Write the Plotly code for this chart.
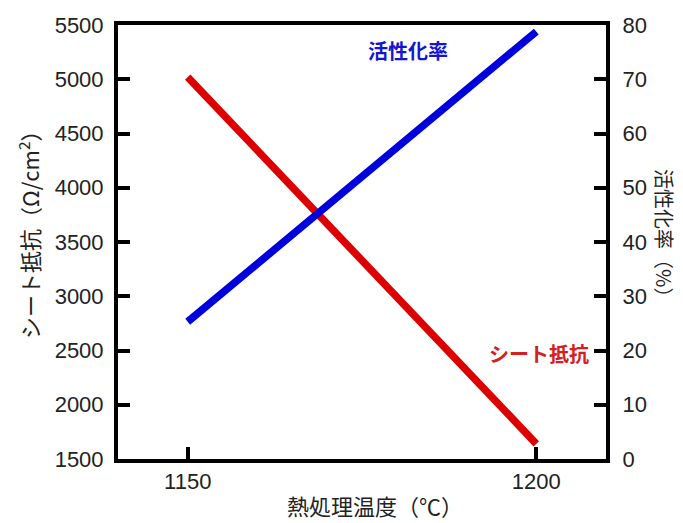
import plotly.graph_objects as go

# Annealing temperature (°C)
temperature = [1150, 1200]
# Sheet resistance (Ω/cm²), left axis
sheet_resistance = [5020, 1640]
# Activation rate (%), right axis
activation_rate = [25.3, 78.8]

x_ticks = [1150, 1200]
series_names = ["シート抵抗", "活性化率"]

W, H = 683, 523
L, R, T, B = 118, 77, 25, 64
PW, PH = W - L - R, H - T - B

def px(x):
    return (x - L) / PW

def py(y):
    return (H - B - y) / PH

NUM_FONT = "Liberation Sans, Arial, sans-serif"
JP_FONT = "Noto Sans CJK JP, sans-serif"

fig = go.Figure()
fig.add_trace(go.Scatter(
    x=temperature, y=sheet_resistance, mode="lines", name=series_names[0],
    line=dict(color="#dc0000", width=7.5), yaxis="y",
))
fig.add_trace(go.Scatter(
    x=temperature, y=activation_rate, mode="lines", name=series_names[1],
    line=dict(color="#0000dc", width=7.5), yaxis="y2",
))

axis_common = dict(
    showline=True, linecolor="black", linewidth=4,
    ticks="inside", ticklen=12, tickwidth=4, tickcolor="black",
    showgrid=False, zeroline=False,
    tickfont=dict(family=NUM_FONT, size=22, color="#222"),
)

fig.update_layout(
    width=W, height=H,
    margin=dict(l=L, r=R, t=T, b=B, pad=0),
    paper_bgcolor="white", plot_bgcolor="white",
    showlegend=False,
    xaxis=dict(range=[1140, 1210], tickvals=x_ticks, mirror=True,
               ticklabelstandoff=0, **axis_common),
    yaxis=dict(range=[1500, 5500], dtick=500, ticklabelstandoff=6, **axis_common),
    yaxis2=dict(range=[0, 80], dtick=10, overlaying="y", side="right",
                ticklabelstandoff=8, **axis_common),
)

annotations = [
    dict(text="シート抵抗（Ω/cm<sup>2</sup>）", x=px(28), y=py(230), textangle=-90,
         font=dict(family=JP_FONT, size=22, color="#222")),
    dict(text="活性化率（%）", x=px(665), y=py(238), textangle=90,
         font=dict(family=JP_FONT, size=20, color="#222")),
    dict(text="熱処理温度（℃）", x=px(375), y=py(505),
         font=dict(family=JP_FONT, size=22, color="#222")),
    dict(text="<b>" + series_names[1] + "</b>", x=px(408), y=py(50),
         font=dict(family=JP_FONT, size=20, color="#1414d2")),
    dict(text="<b>" + series_names[0] + "</b>", x=px(539), y=py(353),
         font=dict(family=JP_FONT, size=20, color="#d42020")),
]
for a in annotations:
    fig.add_annotation(xref="paper", yref="paper", showarrow=False,
                       xanchor="center", yanchor="middle", **a)

fig.write_html("out.html")
